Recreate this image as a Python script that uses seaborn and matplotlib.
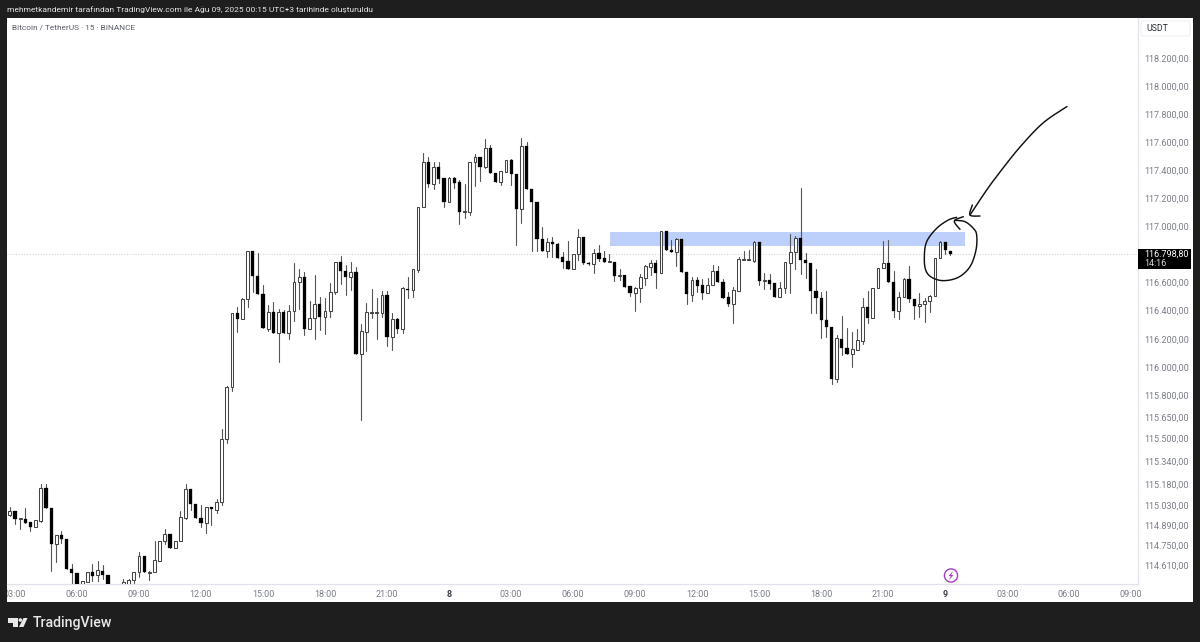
import numpy as np
import pandas as pd
import seaborn as sns
import matplotlib
matplotlib.use("Agg")
import matplotlib.pyplot as plt
from matplotlib.patches import Rectangle, FancyBboxPatch, Circle, Polygon

opens = [114961,114989,114933,114933,114912,114877,114919,115149,115009,114759,
 114821,114793,114585,114557,114440,114495,114564,114543,114571,114543,
 114440,114400,114426,114440,114509,114564,114675,114557,114564,114641,
 114780,114828,114731,114780,114940,115142,115037,114940,114905,115016,
 114996,115051,115492,115859,116382,116339,116480,116821,116643,116516,
 116268,116389,116240,116389,116240,116396,116601,116636,116268,116346,
 116445,116353,116396,116530,116743,116679,116636,116672,116091,116247,
 116382,116382,116382,116509,116212,116339,116268,116551,116544,116686,
 117135,117456,117299,117420,117341,117170,117341,117313,117099,117099,
 117456,117491,117420,117556,117377,117313,117384,117470,117370,117120,
 117570,117263,117170,116906,116821,116885,116871,116778,116750,116693,
 116800,116921,116736,116729,116807,116771,116743,116743,116643,116650,
 116573,116523,116559,116629,116708,116736,116665,116964,116828,116814,
 116906,116672,116509,116615,116580,116523,116580,116679,116601,116494,
 116445,116537,116757,116757,116750,116885,116608,116615,116594,116494,
 116559,116736,116814,116913,116757,116736,116537,116487,116332,116282,
 115915,116198,116134,116091,116120,116184,116424,116346,116559,116700,
 116736,116601,116396,116494,116622,116480,116431,116445,116466,116502,
 116771,116885,116821]
highs = [115016,114989,114940,115009,114912,114926,115177,115177,115009,114821,
 114849,114793,114620,114557,114502,114564,114620,114641,114613,114543,
 114440,114450,114515,114515,114564,114703,114675,114571,114780,114780,
 114863,114828,114780,114989,115177,115142,115037,115030,115016,115016,
 115072,115564,115866,116382,116424,116487,116821,116821,116807,116580,
 116438,116459,116410,116403,116438,116736,116693,116672,116466,116650,
 116494,116487,116594,116743,116785,116722,116743,116708,116303,116452,
 116551,116487,116537,116537,116382,116346,116566,116636,116693,117135,
 117520,117491,117456,117456,117341,117348,117348,117327,117299,117456,
 117513,117491,117620,117577,117377,117392,117470,117477,117370,117627,
 117599,117263,117170,116992,116913,116921,116878,116814,116892,116800,
 116978,116921,116743,116835,116864,116821,116800,116743,116693,116650,
 116573,116566,116657,116722,116757,116757,116964,116964,116899,116913,
 116906,116672,116636,116636,116622,116629,116722,116715,116622,116530,
 116566,116778,116821,116828,116892,116885,116665,116657,116594,116601,
 116743,116942,116928,117270,116807,116736,116693,116530,116537,116282,
 116226,116360,116275,116247,116268,116487,116537,116559,116700,116892,
 116899,116679,116530,116629,116715,116480,116523,116487,116509,116771,
 116892,116885,116821]
lows = [114954,114898,114863,114905,114849,114877,114912,115009,114571,114634,
 114766,114585,114481,114446,114433,114495,114502,114502,114515,114426,
 114370,114380,114420,114440,114481,114529,114564,114509,114564,114641,
 114759,114731,114731,114780,114933,114996,114940,114877,114835,114891,
 114975,115030,115464,115831,116247,116339,116424,116530,116516,116275,
 116254,116240,116035,116240,116198,116325,116410,116226,116268,116198,
 116261,116233,116353,116516,116587,116509,116544,116091,115627,116113,
 116346,116198,116353,116148,116120,116240,116240,116487,116494,116672,
 117135,117277,117263,117306,117135,117170,117270,117014,117056,117078,
 117284,117320,117413,117377,117313,117292,117384,117292,116864,117021,
 117263,116821,116821,116821,116778,116778,116771,116700,116693,116693,
 116757,116729,116722,116665,116750,116743,116743,116608,116615,116566,
 116502,116396,116459,116580,116650,116559,116665,116828,116814,116715,
 116672,116445,116466,116530,116480,116523,116580,116601,116487,116431,
 116310,116537,116757,116757,116743,116580,116551,116551,116494,116494,
 116523,116523,116693,116657,116629,116382,116382,116205,116212,115880,
 115894,116084,116091,116000,116120,116162,116310,116346,116559,116700,
 116601,116353,116339,116494,116459,116339,116353,116318,116389,116502,
 116771,116800,116793]
closes = [114989,114933,114940,114905,114877,114926,115149,115009,114759,114821,
 114793,114585,114557,114460,114502,114564,114536,114578,114543,114440,
 114400,114440,114495,114509,114564,114675,114564,114564,114648,114780,
 114828,114731,114780,114947,115142,115037,114940,114905,115016,115002,
 115051,115492,115859,116382,116339,116480,116821,116643,116516,116275,
 116389,116240,116389,116240,116396,116601,116636,116268,116346,116445,
 116353,116396,116530,116743,116679,116636,116672,116091,116254,116389,
 116389,116389,116509,116212,116339,116268,116559,116544,116693,117135,
 117456,117299,117420,117334,117170,117341,117306,117099,117106,117456,
 117491,117420,117556,117377,117313,117392,117470,117370,117120,117570,
 117263,117170,116906,116821,116885,116871,116771,116743,116693,116800,
 116921,116736,116729,116807,116764,116743,116750,116643,116650,116566,
 116523,116559,116636,116715,116736,116665,116964,116828,116814,116906,
 116672,116516,116615,116573,116523,116580,116679,116601,116487,116445,
 116544,116764,116764,116764,116885,116608,116615,116587,116494,116559,
 116743,116814,116913,116757,116736,116537,116487,116332,116282,115915,
 116205,116134,116091,116127,116191,116424,116346,116559,116700,116736,
 116601,116396,116494,116622,116480,116431,116445,116466,116502,116771,
 116885,116828,116799]

price_ticks = [118200,118000,117800,117600,117400,117200,117000,116600,116400,116200,
               116000,115800,115650,115500,115340,115180,115030,114890,114750,114610]
time_labels = ["03:00","06:00","09:00","12:00","15:00","18:00","21:00","8",
               "03:00","06:00","09:00","12:00","15:00","18:00","21:00","9",
               "03:00","06:00","09:00"]
last_price = 116798.80
zone_low, zone_high = 116860, 116957
zone_start, zone_end = 116.2, 184.9

sns.set_theme(style="white")
plt.rcParams["font.family"] = ["Roboto", "DejaVu Sans"]

W, H = 1200, 642
fig = plt.figure(figsize=(W / 100, H / 100), dpi=100, facecolor="#1e1e1e")

# white panel behind everything
bg = fig.add_axes([0, 0, 1, 1], zorder=0)
bg.set_xlim(0, W); bg.set_ylim(H, 0); bg.axis("off")
bg.add_patch(Rectangle((7, 18), 1186, 584, fc="white", ec="none"))

# chart
ax = fig.add_axes([7 / W, 1 - 584 / H, (1137.5 - 7) / W, (584 - 18) / H], zorder=1)
ax.patch.set_alpha(0)
df = pd.DataFrame({"i": np.arange(len(opens)), "open": opens, "high": highs,
                   "low": lows, "close": closes})
long = df.melt(id_vars="i", value_vars=["high", "low"], value_name="price")
ax.set_yscale("log")
ax.axhspan(zone_low, zone_high, xmin=(zone_start + 0.54) / 218.74, xmax=(zone_end + 0.54) / 218.74,
           fc="#bdd0fb", ec="none", zorder=1)
ax.axhline(last_price, color="#d4d6dd", lw=0.8, ls=(0, (1, 1.5)), zorder=1)
sns.lineplot(data=long, x="i", y="price", units="i", estimator=None, color="#555555",
             lw=0.8, ax=ax, legend=False, zorder=2)
up = df[df.close >= df.open]
dn = df[df.close < df.open]
ax.bar(up.i, up.close - up.open, bottom=up.open, width=0.54, fc="white", ec="#444444",
       lw=0.75, zorder=3)
ax.bar(dn.i, dn.open - dn.close, bottom=dn.close, width=0.62, fc="black", ec="black",
       lw=0.2, zorder=3)
ax.set_xlim(-0.54, 218.2)
ax.set_ylim(114480, 118488)
ax.minorticks_off()
ax.yaxis.tick_right()
ax.set_yticks(price_ticks)
ax.set_yticklabels([f"{p:,.2f}".replace(",", "X").replace(".", ",").replace("X", ".") for p in price_ticks])
ax.set_xticks(np.arange(len(time_labels)) * 12 + 1)
ax.set_xticklabels(time_labels)
ax.tick_params(axis="y", length=0, pad=4.7, labelsize=6.45, labelcolor="#7a7d88", labelright=True)
ax.tick_params(axis="x", length=0, pad=4.4, labelsize=6.45, labelcolor="#7a7d88")
for t in ax.get_xticklabels():
    if t.get_text() in ("8", "9"):
        t.set_color("#3c3f48"); t.set_fontweight("bold")
ax.set_xlabel(""); ax.set_ylabel("")
for s in ("top", "left"):
    ax.spines[s].set_visible(False)
for s in ("right", "bottom"):
    ax.spines[s].set_color("#e0e3eb"); ax.spines[s].set_linewidth(0.9)

# overlay in pixel coordinates
ov = fig.add_axes([0, 0, 1, 1], zorder=2)
ov.set_xlim(0, W); ov.set_ylim(H, 0); ov.axis("off"); ov.patch.set_alpha(0)
ov.add_patch(Rectangle((0, 585), 7, 20, fc="#1e1e1e", ec="none"))
ov.text(7, 10, "mehmetkandemir tarafından TradingView.com ile Ağu 09, 2025 00:15 UTC+3 tarihinde oluşturuldu",
        color="#e6e6e6", fontsize=6.0, va="center", ha="left")
ov.text(12, 28, "Bitcoin / TetherUS · 15 · BINANCE", color="#5a5d66", fontsize=5.95, va="center", ha="left")
ov.add_patch(FancyBboxPatch((1141, 21), 49, 15, boxstyle="round,pad=0,rounding_size=2",
                            fc="white", ec="#eeeff2", lw=0.8))
ov.text(1146, 28.7, "USDT", color="#2a2e39", fontsize=6.3, va="center", ha="left")
ov.add_patch(Rectangle((1138, 249), 53, 20, fc="black", ec="none"))
ov.text(1144, 254.5, "116.798,80", color="white", fontsize=6.45, va="center", ha="left")
ov.text(1144, 263.5, "14:16", color="#d8d8d8", fontsize=6.45, va="center", ha="left")


def curve(pts, lw=1.05):
    pts = np.asarray(pts, float)
    tt = np.linspace(0, len(pts) - 1, 300)
    # Catmull-Rom smoothing of the freehand stroke
    p = np.vstack([pts[0], pts, pts[-1]])
    idx = np.clip(tt.astype(int), 0, len(pts) - 2)
    u = (tt - idx)[:, None]
    p0, p1, p2, p3 = p[idx], p[idx + 1], p[idx + 2], p[idx + 3]
    c = 0.5 * (2 * p1 + (p2 - p0) * u + (2 * p0 - 5 * p1 + 4 * p2 - p3) * u**2 + (3 * p1 - p0 - 3 * p2 + p3) * u**3)
    ov.plot(c[:, 0], c[:, 1], color="#111111", lw=lw, solid_capstyle="round")


def z(pts):
    return [(915 + a / 3, 160 + b / 3) for a, b in pts]


curve([(1067, 106.5), (1043, 123), (1020, 147), (1000, 172)] + z([(215, 90), (165, 165)]))
curve(z([(172, 135), (165, 165), (195, 168)]))
curve(z([(125, 172), (100, 180), (65, 205), (35, 245), (28, 290), (32, 330), (50, 352), (85, 362),
         (130, 352), (165, 320), (183, 270), (185, 225), (175, 205), (150, 185), (120, 181)]))
curve(z([(145, 170), (118, 183), (135, 208)]))

# bolt marker
ov.add_patch(Circle((951, 575.5), 6.6, fc="white", ec="#a63cc6", lw=1.0))
ov.add_patch(Polygon([(953, 571), (948.5, 576), (950.8, 576), (949, 580), (953.5, 575), (951.2, 575)],
                     fc="#a63cc6", ec="none"))

# logo
for poly in ([(8, 618), (17.5, 618), (17.5, 627), (13, 627), (13, 622.5), (8, 622.5)],
             [(23.5, 618), (27.5, 618), (23.5, 627), (19, 627)]):
    ov.add_patch(Polygon(poly, fc="#e8e8e8", ec="none"))
ov.add_patch(Circle((20.3, 620), 1.8, fc="#e8e8e8", ec="none"))
ov.text(33, 622.5, "TradingView", color="#e8e8e8", fontsize=10.2, fontweight="medium", va="center", ha="left")

fig.savefig("out.png", dpi=100, facecolor=fig.get_facecolor())
